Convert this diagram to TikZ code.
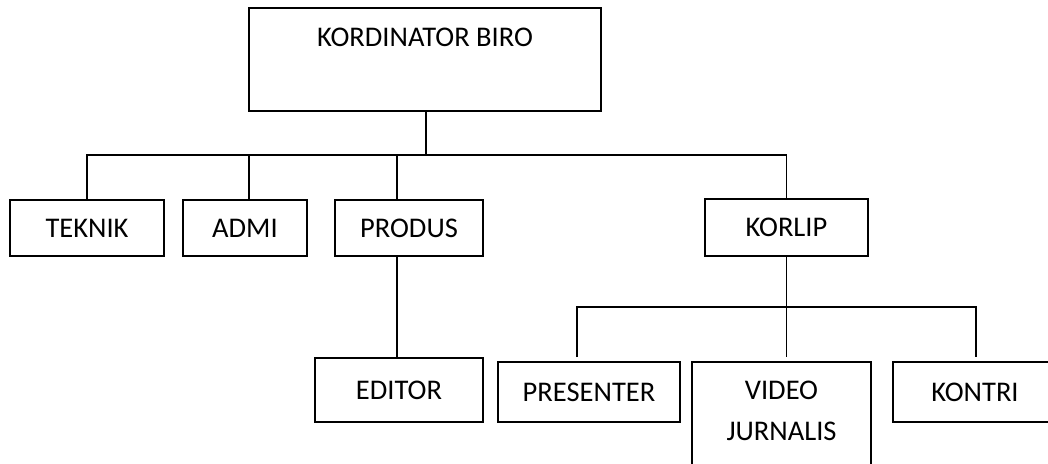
\documentclass[tikz,border=0pt]{standalone}
\usepackage{fontspec}
\setmainfont{Carlito}
\begin{document}
\begin{tikzpicture}[x=1pt,y=-1pt,
  box/.style={draw=black,line width=1.6pt,rectangle,inner sep=0pt,fill=white},
  lbl/.style={inner sep=0pt,font=\fontsize{28.5}{34}\selectfont},
  conn/.style={draw=black,line width=1.6pt}]
\useasboundingbox (0,0) rectangle (1048,463);
\clip (0,0) rectangle (1048,463);
\fill[white] (0,0) rectangle (1048,463);
% boxes
\node[box,minimum width=352pt,minimum height=103pt] (kb) at (425,59.5) {};
\node[lbl] (kbt) at (425,37) {KORDINATOR BIRO};
\node[box,lbl,minimum width=154pt,minimum height=56pt] (teknik) at (87,228) {TEKNIK};
\node[box,lbl,minimum width=124pt,minimum height=56pt] (admi) at (245,228) {ADMI};
\node[box,lbl,minimum width=148pt,minimum height=56pt] (produs) at (409,228) {PRODUS};
\node[box,lbl,minimum width=163pt,minimum height=57pt] (korlip) at (786.5,227.5) {KORLIP};
\node[box,lbl,minimum width=168pt,minimum height=64pt] (editor) at (399,390) {EDITOR};
\node[box,lbl,minimum width=182pt,minimum height=60pt] (presenter) at (589,392) {PRESENTER};
\node[box,minimum width=179pt,minimum height=130pt] (video) at (781.5,427) {};
\node[lbl,align=center] (videot) at (781.5,411) {VIDEO\\[7pt]JURNALIS};
\node[box,lbl,minimum width=164pt,minimum height=60pt] (kontri) at (975,392) {KONTRI};
% connectors
\coordinate (bus1) at (426,155);
\coordinate (bus2) at (787,307);
\draw[conn] ([xshift=1pt]kb.south) -- (bus1);
\draw[conn] (teknik.north) |- (bus1) -| (korlip.north);
\draw[conn] ([xshift=4pt]admi.north) -- ([xshift=4pt]admi.north |- bus1);
\draw[conn] ([xshift=-12pt]produs.north) -- ([xshift=-12pt]produs.north |- bus1);
\draw[conn] ([xshift=-12pt]produs.south) -- ([xshift=-12pt]produs.south |- editor.north);
\draw[conn] (korlip.south) -- ([yshift=4pt]korlip.south |- video.north);
\draw[conn] ([xshift=-12pt,yshift=4pt]presenter.north) |- (bus2) -| ([xshift=1pt,yshift=4pt]kontri.north);
\end{tikzpicture}
\end{document}
